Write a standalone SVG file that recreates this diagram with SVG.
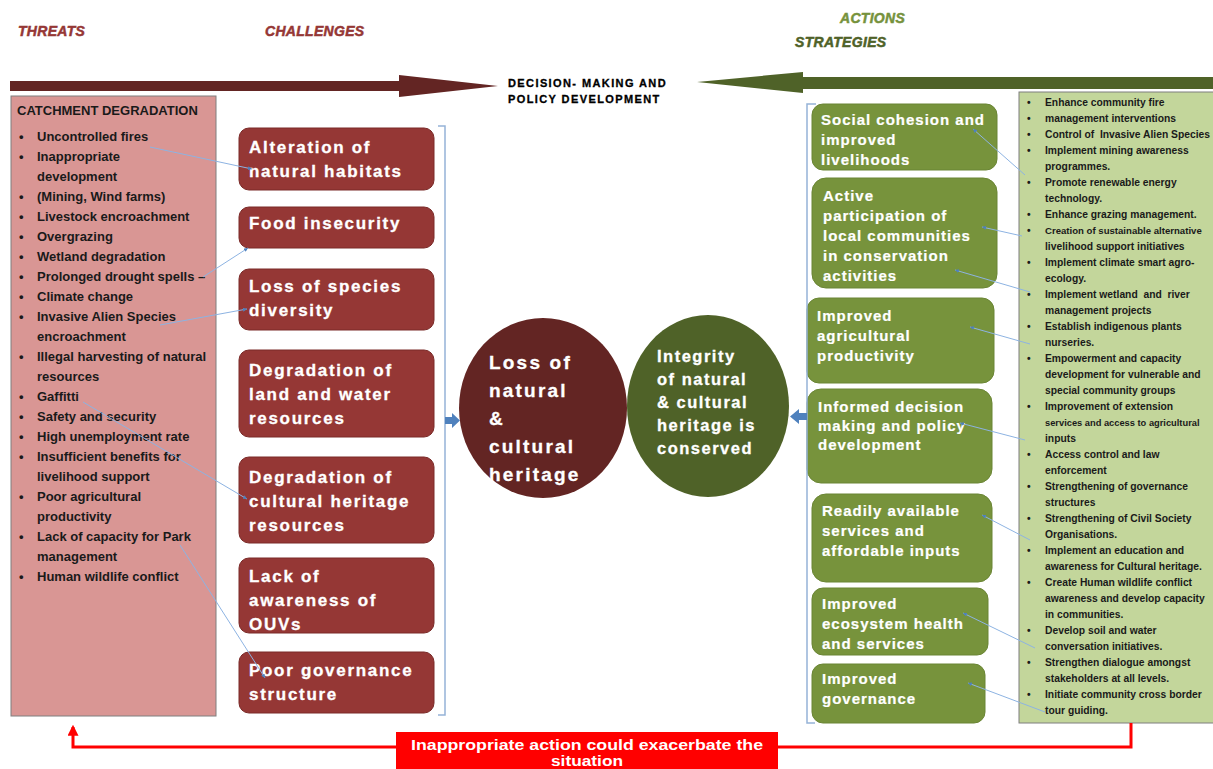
<svg xmlns="http://www.w3.org/2000/svg" width="1213" height="769" viewBox="0 0 1213 769">
<style>
.hd{font-family:"Liberation Sans",Arial,sans-serif;font-weight:bold;font-style:italic;font-size:14px;stroke-width:0.5px;letter-spacing:0.3px}
.dm{font-family:"Liberation Sans",Arial,sans-serif;font-weight:bold;font-size:11px;letter-spacing:1.4px;fill:#000;stroke:#000;stroke-width:0.3px}
.lt{font-family:"Liberation Sans",Arial,sans-serif;font-weight:bold;font-size:13px;fill:#1a1a1a}
.rt{font-family:"Liberation Sans",Arial,sans-serif;font-weight:bold;font-size:10.3px;fill:#1a1a1a}
.ch{font-family:"Liberation Sans",Arial,sans-serif;font-weight:bold;font-size:17px;letter-spacing:1.7px;fill:#fff;stroke:#fff;stroke-width:0.3px}
.st{font-family:"Liberation Sans",Arial,sans-serif;font-weight:bold;font-size:15px;letter-spacing:1px;fill:#fff;stroke:#fff;stroke-width:0.2px}
.cb{fill:#953735;stroke:#7a2a28;stroke-width:1}
.sb{fill:#77933C;stroke:#6a8534;stroke-width:1}
.conn{stroke:#8DB3E2;stroke-width:1;fill:none;marker-end:url(#ah)}
.brk{stroke:#95B3D7;stroke-width:1.5;fill:none}
</style>
<defs>
<marker id="ah" viewBox="0 0 10 10" refX="10" refY="5" markerWidth="4" markerHeight="4" orient="auto" markerUnits="strokeWidth">
<path d="M0,0 L10,5 L0,10 z" fill="#4F81BD"/>
</marker>
<marker id="rh" viewBox="0 0 10 10" refX="8" refY="5" markerWidth="11" markerHeight="11" orient="auto" markerUnits="userSpaceOnUse">
<path d="M0,0 L10,5 L0,10 z" fill="#FF0000"/>
</marker>
</defs>
<rect width="1213" height="769" fill="#fff"/>

<g id="headers">
<text class="hd" x="18" y="36" fill="#953735" stroke="#953735">THREATS</text>
<text class="hd" x="265" y="36" fill="#953735" stroke="#953735">CHALLENGES</text>
<text class="hd" x="840" y="23" fill="#76923C" stroke="#76923C">ACTIONS</text>
<text class="hd" x="795" y="47" fill="#4F6228" stroke="#4F6228">STRATEGIES</text>
</g>

<g id="top-arrows">
<polygon points="10,81 399,81 399,75 498,86 399,97 399,91 10,91" fill="#632523"/>
<polygon points="697,82 803,72 803,77 1213,77 1213,89 803,89 803,93" fill="#4F6228"/>
<text class="dm" x="508" y="87">DECISION- MAKING AND</text>
<text class="dm" x="508" y="103">POLICY DEVELOPMENT</text>
</g>

<g id="threats">
<rect x="11" y="96" width="205" height="620" fill="#D99694" stroke="#7F7F7F" stroke-width="1"/>
<text class="lt" x="17" y="115" font-size="12.5">CATCHMENT DEGRADATION</text>
<g class="lt">
<text x="19" y="141">•</text><text x="37" y="141">Uncontrolled fires</text>
<text x="19" y="161">•</text><text x="37" y="161">Inappropriate</text>
<text x="37" y="181">development</text>
<text x="19" y="201">•</text><text x="37" y="201">(Mining, Wind farms)</text>
<text x="19" y="221">•</text><text x="37" y="221">Livestock encroachment</text>
<text x="19" y="241">•</text><text x="37" y="241">Overgrazing</text>
<text x="19" y="261">•</text><text x="37" y="261">Wetland degradation</text>
<text x="19" y="281">•</text><text x="37" y="281">Prolonged drought spells –</text>
<text x="19" y="301">•</text><text x="37" y="301">Climate change</text>
<text x="19" y="321">•</text><text x="37" y="321">Invasive Alien Species</text>
<text x="37" y="341">encroachment</text>
<text x="19" y="361">•</text><text x="37" y="361">Illegal harvesting of natural</text>
<text x="37" y="381">resources</text>
<text x="19" y="401">•</text><text x="37" y="401">Gaffitti</text>
<text x="19" y="421">•</text><text x="37" y="421">Safety and security</text>
<text x="19" y="441">•</text><text x="37" y="441">High unemployment rate</text>
<text x="19" y="461">•</text><text x="37" y="461">Insufficient benefits for</text>
<text x="37" y="481">livelihood support</text>
<text x="19" y="501">•</text><text x="37" y="501">Poor agricultural</text>
<text x="37" y="521">productivity</text>
<text x="19" y="541">•</text><text x="37" y="541">Lack of capacity for Park</text>
<text x="37" y="561">management</text>
<text x="19" y="581">•</text><text x="37" y="581">Human wildlife conflict</text>
</g>
</g>

<g id="ch1"><rect class="cb" x="239" y="128" width="195" height="62" rx="10"/>
<text class="ch" x="249" y="153">Alteration of</text><text class="ch" x="249" y="177">natural habitats</text></g>
<g id="ch2"><rect class="cb" x="239" y="207" width="195" height="41" rx="10"/>
<text class="ch" x="249" y="229">Food insecurity</text></g>
<g id="ch3"><rect class="cb" x="239" y="269" width="195" height="61" rx="10"/>
<text class="ch" x="249" y="292">Loss of species</text><text class="ch" x="249" y="316">diversity</text></g>
<g id="ch4"><rect class="cb" x="239" y="350" width="195" height="87" rx="10"/>
<text class="ch" x="249" y="376">Degradation of</text><text class="ch" x="249" y="400">land and water</text><text class="ch" x="249" y="424">resources</text></g>
<g id="ch5"><rect class="cb" x="239" y="457" width="195" height="86" rx="10"/>
<text class="ch" x="249" y="483">Degradation of</text><text class="ch" x="249" y="507">cultural heritage</text><text class="ch" x="249" y="531">resources</text></g>
<g id="ch6"><rect class="cb" x="239" y="558" width="195" height="75" rx="10"/>
<text class="ch" x="249" y="582">Lack of</text><text class="ch" x="249" y="606">awareness of</text><text class="ch" x="249" y="630">OUVs</text></g>
<g id="ch7"><rect class="cb" x="239" y="652" width="195" height="61" rx="10"/>
<text class="ch" x="249" y="676">Poor governance</text><text class="ch" x="249" y="700">structure</text></g>

<g id="loss-circle">
<ellipse cx="543" cy="408" rx="84" ry="90" fill="#632523"/>
<g font-family="Liberation Sans,Arial,sans-serif" font-weight="bold" font-size="19" letter-spacing="2.2" fill="#fff" stroke="#fff" stroke-width="0.3">
<text x="489" y="369">Loss of</text><text x="489" y="397">natural</text><text x="489" y="425">&amp;</text><text x="489" y="453">cultural</text><text x="489" y="481">heritage</text>
</g>
</g>
<g id="integrity-circle">
<ellipse cx="708" cy="406" rx="81" ry="91" fill="#4F6228"/>
<g font-family="Liberation Sans,Arial,sans-serif" font-weight="bold" font-size="16.5" letter-spacing="1.5" fill="#fff" stroke="#fff" stroke-width="0.3">
<text x="657" y="362">Integrity</text><text x="657" y="385">of natural</text><text x="657" y="408">&amp; cultural</text><text x="657" y="431">heritage is</text><text x="657" y="454">conserved</text>
</g>
</g>

<g id="st1"><rect class="sb" x="812" y="104" width="185" height="66" rx="11"/>
<text class="st" x="821" y="125">Social cohesion and</text><text class="st" x="821" y="145">improved</text><text class="st" x="821" y="165">livelihoods</text></g>
<g id="st2"><rect class="sb" x="812" y="178" width="185" height="110" rx="14"/>
<text class="st" x="823" y="201">Active</text><text class="st" x="823" y="221">participation of</text><text class="st" x="823" y="241">local communities</text><text class="st" x="823" y="261">in conservation</text><text class="st" x="823" y="281">activities</text></g>
<g id="st3"><rect class="sb" x="807" y="298" width="187" height="85" rx="12"/>
<text class="st" x="817" y="321">Improved</text><text class="st" x="817" y="341">agricultural</text><text class="st" x="817" y="361">productivity</text></g>
<g id="st4"><rect class="sb" x="807" y="389" width="185" height="94" rx="14"/>
<text class="st" x="818" y="412">Informed decision</text><text class="st" x="818" y="431">making and policy</text><text class="st" x="818" y="450">development</text></g>
<g id="st5"><rect class="sb" x="812" y="494" width="180" height="88" rx="14"/>
<text class="st" x="822" y="516">Readily available</text><text class="st" x="822" y="536">services and</text><text class="st" x="822" y="556">affordable inputs</text></g>
<g id="st6"><rect class="sb" x="812" y="588" width="176" height="67" rx="11"/>
<text class="st" x="822" y="609">Improved</text><text class="st" x="822" y="629">ecosystem health</text><text class="st" x="822" y="649">and services</text></g>
<g id="st7"><rect class="sb" x="812" y="664" width="173" height="59" rx="11"/>
<text class="st" x="822" y="684">Improved</text><text class="st" x="822" y="704">governance</text></g>

<g id="actions-list">
<rect x="1019" y="92" width="200" height="631" fill="#C3D69B" stroke="#7F7F7F" stroke-width="1"/>
<g class="rt">
<text x="1027" y="106">•</text><text x="1045" y="106">Enhance community fire</text>
<text x="1027" y="122">•</text><text x="1045" y="122">management interventions</text>
<text x="1027" y="138">•</text><text x="1045" y="138" xml:space="preserve">Control of  Invasive Alien Species</text>
<text x="1027" y="154">•</text><text x="1045" y="154">Implement mining awareness</text>
<text x="1045" y="170">programmes.</text>
<text x="1027" y="186">•</text><text x="1045" y="186">Promote renewable energy</text>
<text x="1045" y="202">technology.</text>
<text x="1027" y="218">•</text><text x="1045" y="218">Enhance grazing management.</text>
<text x="1027" y="234">•</text><text x="1045" y="234" font-size="9.6">Creation of sustainable alternative</text>
<text x="1045" y="250">livelihood support initiatives</text>
<text x="1027" y="266">•</text><text x="1045" y="266">Implement climate smart agro-</text>
<text x="1045" y="282">ecology.</text>
<text x="1027" y="298">•</text><text x="1045" y="298" xml:space="preserve">Implement wetland  and  river</text>
<text x="1045" y="314">management projects</text>
<text x="1027" y="330">•</text><text x="1045" y="330">Establish indigenous plants</text>
<text x="1045" y="346">nurseries.</text>
<text x="1027" y="362">•</text><text x="1045" y="362">Empowerment and capacity</text>
<text x="1045" y="378">development for vulnerable and</text>
<text x="1045" y="394">special community groups</text>
<text x="1027" y="410">•</text><text x="1045" y="410">Improvement of extension</text>
<text x="1045" y="426" font-size="9.3">services and access to agricultural</text>
<text x="1045" y="442">inputs</text>
<text x="1027" y="458">•</text><text x="1045" y="458">Access control and law</text>
<text x="1045" y="474">enforcement</text>
<text x="1027" y="490">•</text><text x="1045" y="490">Strengthening of governance</text>
<text x="1045" y="506">structures</text>
<text x="1027" y="522">•</text><text x="1045" y="522">Strengthening of Civil Society</text>
<text x="1045" y="538">Organisations.</text>
<text x="1027" y="554">•</text><text x="1045" y="554">Implement an education and</text>
<text x="1045" y="570">awareness for Cultural heritage.</text>
<text x="1027" y="586">•</text><text x="1045" y="586">Create Human wildlife conflict</text>
<text x="1045" y="602">awareness and develop capacity</text>
<text x="1045" y="618">in communities.</text>
<text x="1027" y="634">•</text><text x="1045" y="634">Develop soil and water</text>
<text x="1045" y="650">conversation initiatives.</text>
<text x="1027" y="666">•</text><text x="1045" y="666">Strengthen dialogue amongst</text>
<text x="1045" y="682">stakeholders at all levels.</text>
<text x="1027" y="698">•</text><text x="1045" y="698">Initiate community cross border</text>
<text x="1045" y="714">tour guiding.</text>
</g>
</g>

<g id="connectors">
<path class="brk" d="M438,126 H445 V715 H438"/>
<path class="brk" d="M816,104 H807 V723 H815"/>
<polygon points="445,417 452,417 452,413 460,420.5 452,428 452,424 445,424" fill="#4F81BD"/>
<polygon points="807,413 799,413 799,409 790,416.5 799,424 799,420 807,420" fill="#4F81BD"/>
<line class="conn" x1="150" y1="147" x2="252" y2="169"/>
<line class="conn" x1="203" y1="277" x2="248" y2="248"/>
<line class="conn" x1="160" y1="325" x2="247" y2="309"/>
<line class="conn" x1="83" y1="402" x2="247" y2="499"/>
<line class="conn" x1="180" y1="545" x2="265" y2="678"/>
<line class="conn" x1="1025" y1="175" x2="973" y2="129"/>
<line class="conn" x1="1022" y1="236" x2="982" y2="227"/>
<line class="conn" x1="1030" y1="292" x2="955" y2="270"/>
<line class="conn" x1="1030" y1="344" x2="970" y2="327"/>
<line class="conn" x1="1025" y1="440" x2="960" y2="423"/>
<line class="conn" x1="1030" y1="540" x2="982" y2="515"/>
<line class="conn" x1="1035" y1="648" x2="963" y2="613"/>
<line class="conn" x1="1045" y1="712" x2="968" y2="683"/>
<path d="M1131,723 V747 H73 V727" fill="none" stroke="#FF0000" stroke-width="3" marker-end="url(#rh)"/>
</g>

<g id="feedback-label">
<rect x="396" y="732" width="382" height="40" fill="#FF0000"/>
<text x="411" y="750" textLength="352" lengthAdjust="spacingAndGlyphs" font-family="Liberation Sans,Arial,sans-serif" font-weight="bold" font-size="15" fill="#fff">Inappropriate action could exacerbate the</text>
<text x="551" y="766" textLength="72" lengthAdjust="spacingAndGlyphs" font-family="Liberation Sans,Arial,sans-serif" font-weight="bold" font-size="15" fill="#fff">situation</text>
</g>
</svg>
